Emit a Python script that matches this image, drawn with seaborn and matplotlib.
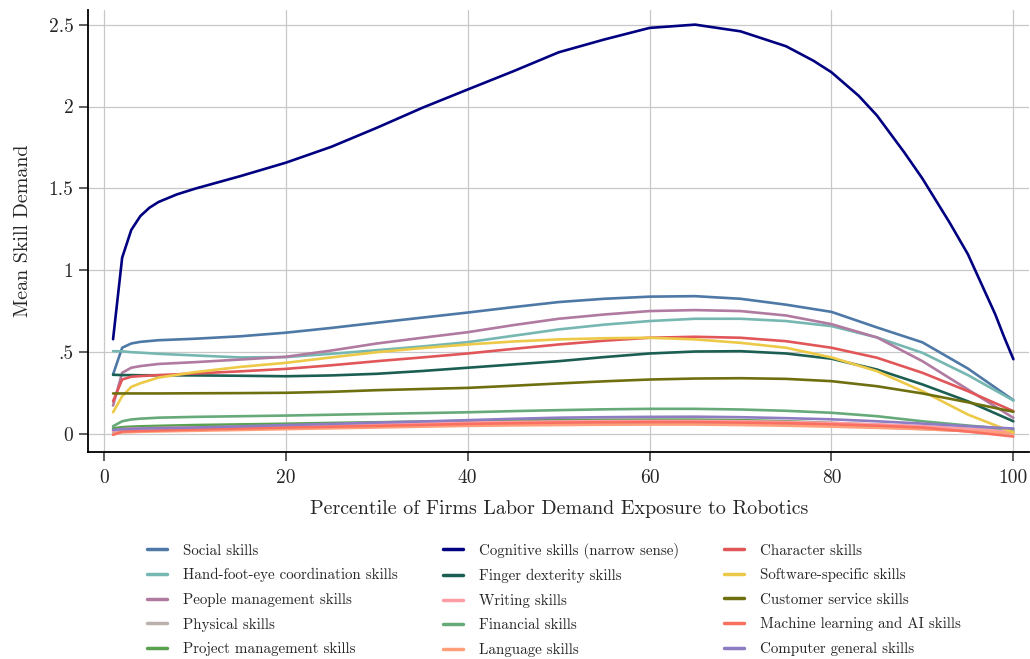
import pandas as pd
import matplotlib
matplotlib.use("Agg")
import matplotlib.pyplot as plt
import seaborn as sns

# percentile positions
pct = [1, 2, 3, 4, 6, 10, 15, 20, 25, 30, 35, 40, 45, 50, 55, 60, 65, 70, 75, 80, 85, 90, 95, 100]
# the cognitive curve bends sharply, so it was read at more positions
pct_cog = [1, 2, 3, 4, 5, 6, 8, 10, 15, 20, 25, 30, 35, 40, 45, 50, 55, 60, 65, 70, 75,
           78, 80, 83, 85, 88, 90, 93, 95, 97, 98, 99, 100]

cognitive = [.579, 1.077, 1.246, 1.331, 1.382, 1.417, 1.463, 1.498, 1.575, 1.657, 1.754, 1.870,
             1.992, 2.104, 2.215, 2.331, 2.409, 2.480, 2.500, 2.459, 2.368, 2.28, 2.209, 2.065,
             1.945, 1.72, 1.56, 1.29, 1.098, .854, .732, .59, .457]

social = [.364, .527, .553, .563, .573, .582, .597, .619, .648, .680, .711, .742, .775, .806, .826, .839, .842, .826, .790, .746, .651, .560, .400, .207]
hand_foot_eye = [.506, .505, .500, .497, .490, .480, .468, .470, .490, .512, .535, .561, .600, .639, .668, .690, .704, .704, .690, .659, .590, .496, .360, .205]
people_mgmt = [.174, .374, .405, .415, .428, .439, .455, .472, .510, .553, .588, .622, .665, .704, .730, .751, .757, .751, .724, .671, .590, .445, .272, .099]
physical = [.012, .020, .024, .026, .029, .033, .038, .042, .046, .050, .054, .058, .061, .064, .066, .067, .067, .065, .060, .052, .042, .030, .018, .006]
project_mgmt = [.035, .042, .045, .047, .050, .055, .059, .063, .068, .072, .076, .080, .083, .085, .087, .088, .088, .085, .078, .068, .057, .045, .030, .015]
finger_dexterity = [.362, .360, .360, .359, .359, .358, .356, .353, .358, .368, .385, .405, .425, .445, .470, .492, .504, .506, .492, .460, .394, .303, .200, .078]
writing = [.020, .030, .033, .035, .037, .040, .045, .050, .055, .060, .065, .070, .074, .077, .079, .080, .080, .078, .074, .068, .059, .048, .032, .015]
financial = [.048, .078, .089, .094, .100, .105, .109, .113, .118, .123, .128, .133, .140, .146, .151, .154, .154, .150, .142, .130, .109, .078, .052, .028]
language = [.000, .010, .012, .014, .016, .020, .025, .030, .035, .040, .045, .050, .053, .055, .057, .058, .058, .055, .051, .045, .038, .030, .018, .005]
character = [.200, .333, .350, .354, .360, .370, .383, .398, .420, .445, .468, .492, .520, .547, .570, .588, .594, .588, .567, .527, .466, .374, .262, .140]
software = [.133, .231, .288, .310, .345, .378, .410, .435, .468, .500, .525, .547, .565, .578, .585, .588, .578, .557, .527, .468, .384, .262, .119, .010]
customer_service = [.248, .248, .248, .248, .248, .249, .250, .252, .258, .268, .275, .282, .295, .309, .322, .333, .339, .341, .337, .323, .292, .248, .194, .136]
ml_ai = [-.005, .015, .017, .019, .022, .028, .034, .040, .045, .050, .056, .062, .066, .070, .072, .073, .073, .070, .066, .060, .051, .040, .015, -.015]
computer_general = [.025, .030, .032, .034, .036, .040, .047, .055, .062, .070, .077, .085, .093, .100, .103, .105, .106, .103, .097, .090, .078, .064, .048, .034]

skills = [
    ("Social skills", pct, social, "#4E79A7"),
    ("Hand-foot-eye coordination skills", pct, hand_foot_eye, "#76B7B2"),
    ("People management skills", pct, people_mgmt, "#B07AA1"),
    ("Physical skills", pct, physical, "#BAB0AC"),
    ("Project management skills", pct, project_mgmt, "#59A14F"),
    ("Cognitive skills (narrow sense)", pct_cog, cognitive, "#000080"),
    ("Finger dexterity skills", pct, finger_dexterity, "#1B5E52"),
    ("Writing skills", pct, writing, "#FF9DA7"),
    ("Financial skills", pct, financial, "#66AA7A"),
    ("Language skills", pct, language, "#FFA07A"),
    ("Character skills", pct, character, "#E15759"),
    ("Software-specific skills", pct, software, "#EDC948"),
    ("Customer service skills", pct, customer_service, "#6E7010"),
    ("Machine learning and AI skills", pct, ml_ai, "#FA7060"),
    ("Computer general skills", pct, computer_general, "#8E7CC3"),
]

rows = []
for name, xs, vals, _ in skills:
    for p, v in zip(xs, vals):
        rows.append({"Percentile": p, "Skill": name, "Demand": v})
df = pd.DataFrame(rows)
palette = {name: c for name, _, _, c in skills}
order = [name for name, _, _, _ in skills]

sns.set_style("white")
plt.rcParams["font.family"] = ["cmr10", "DejaVu Serif"]
plt.rcParams["axes.formatter.use_mathtext"] = True
plt.rcParams["axes.unicode_minus"] = False

fig = plt.figure(figsize=(10.3, 6.59), dpi=100)
ax = fig.add_axes([0.0854, 0.314, 0.914, 0.671])

sns.lineplot(data=df, x="Percentile", y="Demand", hue="Skill", hue_order=order,
             palette=palette, linewidth=1.9, ax=ax)

ax.set_xlim(-1.76, 101.76)
ax.set_ylim(-0.11, 2.59)
ax.set_xticks([0, 20, 40, 60, 80, 100])
ax.set_xticklabels(["0", "20", "40", "60", "80", "100"])
ax.set_yticks([0, 0.5, 1, 1.5, 2, 2.5])
ax.set_yticklabels(["0", ".5", "1", "1.5", "2", "2.5"])
ax.grid(True, color="#c8c8c8", linewidth=0.9)
ax.set_axisbelow(True)
for s in ["top", "right"]:
    ax.spines[s].set_visible(False)
for s in ["left", "bottom"]:
    ax.spines[s].set_color("black")
    ax.spines[s].set_linewidth(1.3)
ax.tick_params(axis="both", direction="out", length=6.5, width=1.1, color="#333333",
               labelsize=14, left=True, bottom=True)
ax.tick_params(axis="x", pad=6)
ax.tick_params(axis="y", pad=4)
ax.set_xlabel("Percentile of Firms Labor Demand Exposure to Robotics", fontsize=14.4, labelpad=9)
ax.set_ylabel("Mean Skill Demand", fontsize=14.4, labelpad=12)

handles, labels = ax.get_legend_handles_labels()
ax.legend_.remove()
for h in handles:
    h.set_linewidth(2.5)
ax.legend(handles, labels, loc="upper center", bbox_to_anchor=(0.495, -0.174),
          ncol=3, frameon=False, fontsize=10.8, handlelength=1.35, handletextpad=1.05,
          columnspacing=3.0, labelspacing=0.71)

fig.savefig("out.png", dpi=100)
